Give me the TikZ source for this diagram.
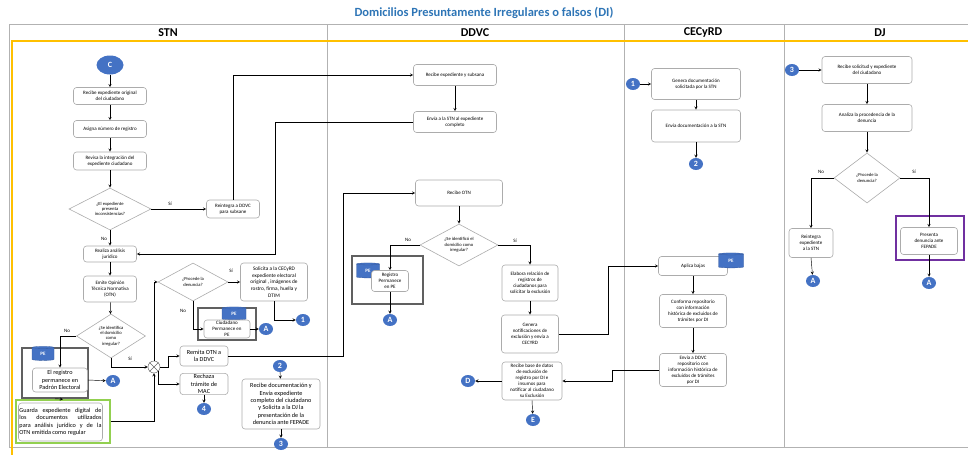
\documentclass[tikz,border=0pt]{standalone}
\usepackage{fontspec}
\setmainfont{Carlito}
\usetikzlibrary{shapes.geometric}

\definecolor{cblue}{RGB}{68,114,196}
\definecolor{tblue}{RGB}{46,117,182}
\definecolor{lyellow}{RGB}{255,192,0}
\definecolor{lgreen}{RGB}{146,208,80}
\definecolor{lpurple}{RGB}{112,48,160}

\tikzset{
  box/.style={draw=gray!65, line width=0.6pt, rounded corners=3pt, fill=white, align=center, inner sep=1pt, font=\fontsize{5}{6}\selectfont},
  bigbox/.style={box, font=\fontsize{6.2}{7.4}\selectfont},
  dec/.style={diamond, draw=gray!65, line width=0.6pt, fill=white, align=center, inner sep=0pt, aspect=2, font=\fontsize{4.6}{5.4}\selectfont},
  conn/.style={ellipse, fill=cblue, text=white, inner sep=0pt, minimum width=14pt, minimum height=12pt, font=\bfseries\fontsize{8}{8}\selectfont},
  grp/.style={draw=gray!75!black, line width=1.6pt},
  cyl/.style={cylinder, shape border rotate=90, aspect=0.4, fill=cblue, draw=cblue!80!black, line width=0.3pt, text=white, inner sep=0pt, font=\bfseries\fontsize{5}{5}\selectfont},
  lbl/.style={inner sep=0pt, font=\fontsize{5}{6}\selectfont},
  lanehead/.style={font=\bfseries\fontsize{12}{14}\selectfont},
  lane/.style={draw=gray!60, line width=0.8pt}
}

\begin{document}
\begin{tikzpicture}[x=1pt, y=-1pt, >=stealth, line width=0.45pt]
\useasboundingbox (0,0) rectangle (968,455);

% lanes
\node[font=\bfseries\fontsize{12.5}{15}\selectfont, text=tblue] (title) at (484,13) {Domicilios Presuntamente Irregulares o falsos (DI)};
\draw[lane] (968,24) -- (9,24) -- (9,447) -- (968,447);
\foreach \lx in {327,624,784} \draw[lane] (\lx,24) -- (\lx,447);
\draw[lyellow, line width=1.8pt] (968,41) -- (12,41) -- (12,455);
\node[lanehead] (hstn) at (168,33) {STN};
\node[lanehead] (hddvc) at (475,33) {DDVC};
\node[lanehead] (hcec) at (703,33) {CECyRD};
\node[lanehead] (hdj) at (880,33) {DJ};

% STN
\node[conn, minimum width=27pt, minimum height=19pt] (c) at (110,65) {C};
\node[box, minimum width=73pt, minimum height=17pt] (n1) at (110,96) {Recibe expediente original\\del ciudadano};
\node[box, minimum width=73pt, minimum height=17pt] (n2) at (110,129) {Asigna número de registro};
\node[box, minimum width=73pt, minimum height=18pt] (n3) at (110,161) {Revisa la integración del\\expediente ciudadano};
\node[dec, minimum width=82pt, minimum height=42pt] (d1) at (110,209) {¿El expediente\\presenta\\inconsistencias?};
\node[box, minimum width=53pt, minimum height=18pt] (reint) at (233,209) {Reintegra a DDVC\\para subsane};
\node[box, minimum width=53pt, minimum height=16pt] (ana) at (110,254) {Realiza análisis\\jurídico};
\node[box, minimum width=53pt, minimum height=26pt] (otn) at (110,289) {Emite Opinión\\Técnica Normativa\\(OTN)};
\node[dec, minimum width=69pt, minimum height=44pt] (d2) at (111,336) {¿Se identifica\\el domicilio\\como\\irregular?};
\node[grp, minimum width=66pt, minimum height=50pt] (pe1grp) at (55,373) {};
\node[cyl, minimum width=22pt, minimum height=14pt] (pe1cyl) at (43,354) {PE};
\node[bigbox, minimum width=55pt, minimum height=24pt] (perm) at (60,380) {El registro\\permanece en\\Padrón Electoral};
\node[conn] (a1) at (113,381) {A};
\node[draw=lgreen, line width=1.6pt, minimum width=94pt, minimum height=43pt] (grn) at (63,421.5) {};
\node[box, text width=82pt, minimum height=38pt, align=justify, font=\fontsize{6.2}{7.4}\selectfont] (guarda) at (60.5,422) {Guarda expediente digital de\linebreak los documentos utilizados\linebreak para análisis jurídico y de la\linebreak OTN emitida como regular};
\node[circle, draw=gray!80!black, fill=white, minimum size=12pt, inner sep=0pt] (gate) at (154,367) {};
\draw[gray!80!black] (gate.north west) -- (gate.south east) (gate.north east) -- (gate.south west);
\node[bigbox, minimum width=48pt, minimum height=20pt] (remita) at (204,356) {Remita OTN a\\la DDVC};
\node[bigbox, minimum width=48pt, minimum height=21pt] (rechaza) at (204,384) {Rechaza\\trámite de\\MAC};
\node[conn] (c4) at (204,409) {4};
\node[dec, minimum width=70pt, minimum height=38pt] (d3) at (193,282) {¿Procede la\\denuncia?};
\node[box, minimum width=67pt, minimum height=38pt, font=\fontsize{5.3}{6.6}\selectfont] (sol) at (274,282) {Solicita a la CECyRD\\expediente electoral\\original , imágenes de\\rostro, firma, huella y\\DTIM};
\node[conn] (c1) at (303,320) {1};
\node[grp, minimum width=58pt, minimum height=32pt] (pe2grp) at (227,324) {};
\node[cyl, minimum width=24pt, minimum height=13pt] (pe2cyl) at (234,314) {PE};
\node[box, minimum width=46pt, minimum height=18pt] (cpe) at (227,329) {Ciudadano\\Permanece en\\PE};
\node[conn] (a2) at (266,329) {A};
\node[conn] (c2) at (280,366) {2};
\node[bigbox, minimum width=78pt, minimum height=50pt] (recdoc) at (281,404) {Recibe documentación y\\Envía expediente\\completo del ciudadano\\y Solicita a la DJ la\\presentación de la\\denuncia  ante FEPADE};
\node[conn] (c3) at (281,444) {3};

\node[lbl] (lb1) at (170,204) {Sí};
\node[lbl] (lb2) at (104,239) {No};
\node[lbl] (lb3) at (67,331) {No};
\node[lbl] (lb4) at (130,359) {Sí};
\node[lbl] (lb5) at (231,271) {Sí};
\node[lbl] (lb6) at (183,311) {No};

\coordinate (k1) at (275,254);
\coordinate (k2) at (343,356);
\coordinate (g1) at (168,367);

\draw[->] (c) -- (n1);
\draw[->] (n1) -- (n2);
\draw[->] (n2) -- (n3);
\draw[->] (n3) -- (d1);
\draw[->] (d1.east) -- (reint.west);
\draw[->] (d1.south) -- (ana.north);
\draw[->] (ana) -- (otn);
\draw[->] (otn) -- (d2);
\draw[->] (d2.west) -| (perm.north);
\draw[->] (perm.east) -- (a1);
\draw[->] (pe1grp.south) -- (grn.north);
\draw[->] (d2.south) |- (gate.west);
\draw[->] (grn.east) -| (gate.south);
\draw[->] (gate.east) -- (g1) |- (remita.west);
\draw[->] (gate.south east) |- (rechaza.west);
\draw[->] (gate.north) |- (d3.west);
\draw[->] (d3.east) -- (sol.west);
\draw[->] (sol.south) |- (c1.west);
\draw[->] (d3.south) |- (cpe.west);
\draw[->] (cpe.east) -- (a2);
\draw[->] (rechaza) -- (c4);
\draw[->] (c2) -- (recdoc);
\draw[->] (recdoc) -- (c3);

% DDVC
\node[box, minimum width=83pt, minimum height=21pt] (rsub) at (455,75) {Recibe expediente y subsana};
\node[box, minimum width=83pt, minimum height=21pt] (envstn) at (455,122) {Envía a la STN al expediente\\completo};
\node[box, minimum width=87pt, minimum height=26pt] (rotn) at (459,193) {Recibe OTN};
\node[dec, minimum width=78pt, minimum height=42pt] (d4) at (459,245) {¿Se identificó el\\domicilio como\\irregular?};
\node[grp, minimum width=71pt, minimum height=48pt] (pe3grp) at (387.5,280) {};
\node[cyl, minimum width=23pt, minimum height=15pt] (pe3cyl) at (368,271) {PE};
\node[box, minimum width=37pt, minimum height=21pt] (rpe) at (390,281) {Registro\\Permanece\\en PE};
\node[conn] (a3) at (390,320) {A};
\node[box, minimum width=56pt, minimum height=36pt] (elab) at (530,283) {Elabora relación de\\registros de\\ciudadanos para\\solicitar la exclusión};
\node[box, minimum width=57pt, minimum height=38pt] (gen) at (530,334) {Genera\\notificaciones de\\exclusión y envía  a\\CECYRD};
\node[box, minimum width=60pt, minimum height=38pt] (recb) at (532,381) {Recibe base de datos\\de exclusión de\\registro por DI e\\insumos para\\notificar al ciudadano\\su Exclusión};
\node[conn] (cd) at (468,381) {D};
\node[conn] (ce) at (533,420) {E};

\node[lbl] (lb7) at (408,240) {No};
\node[lbl] (lb8) at (515,241) {Sí};

\coordinate (k3) at (608,334);
\coordinate (k4) at (612,381);

\draw[->] (reint.north) |- (rsub.west);
\draw[->] (rsub) -- (envstn);
\draw[->] (envstn.west) -| (k1) -- (ana.east);
\draw[->] (remita.east) -- (k2) |- (rotn.west);
\draw[->] (rotn) -- (d4);
\draw[->] (d4.west) -| (rpe.north);
\draw[->] (rpe) -- (a3);
\draw[->] (d4.east) -| (elab.north);
\draw[->] (elab) -- (gen);
\draw[->] (recb.west) -- (cd);
\draw[->] (recb.south) -- (ce);

% CECyRD
\node[conn] (c1b) at (633,84) {1};
\node[box, minimum width=89pt, minimum height=31pt] (gendoc) at (696,84) {Genera documentación\\solicitada por la STN};
\node[box, minimum width=89pt, minimum height=32pt] (envdoc) at (696,126) {Envía documentación a la STN};
\node[conn] (c2b) at (696,164) {2};
\node[box, minimum width=69pt, minimum height=19pt] (aplica) at (693,266) {Aplica bajas};
\node[cyl, minimum width=25pt, minimum height=15pt] (pe4cyl) at (731,261) {PE};
\node[box, minimum width=67pt, minimum height=33pt] (conf) at (693,311) {Conforma repositorio\\con información\\histórica de excluidos de\\trámites  por DI};
\node[box, minimum width=67pt, minimum height=33pt] (envdd) at (693,370) {Envía a DDVC\\repositorio con\\información histórica de\\excluidos de trámites\\por DI};

\draw[->] (c1b) -- (gendoc);
\draw[->] (gendoc) -- (envdoc);
\draw[->] (envdoc) -- (c2b);
\draw[->] (gen.east) -- (k3) |- (aplica.west);
\draw[->] (aplica) -- (conf);
\draw[->] (conf) -- (envdd);
\draw[->] (envdd.west) -| (k4) -- (recb.east);

% DJ
\node[conn] (c3b) at (792,70) {3};
\node[box, minimum width=90pt, minimum height=27pt] (recsol) at (867,70) {Recibe solicitud y expediente\\del ciudadano};
\node[box, minimum width=90pt, minimum height=27pt] (anl) at (867,118) {Analiza la procedencia de la\\denuncia};
\node[dec, minimum width=66pt, minimum height=50pt] (d5) at (867,178) {¿Procede la\\denuncia?};
\node[box, minimum width=44pt, minimum height=29pt] (reintstn) at (811,243) {Reintegra\\expediente\\a la STN};
\node[conn] (a4) at (813,281) {A};
\node[draw=lpurple, line width=1.6pt, minimum width=68pt, minimum height=44pt] (purp) at (930,238) {};
\node[box, minimum width=57pt, minimum height=27pt] (pres) at (929,241) {Presenta\\denuncia ante\\FEPADE};
\node[conn] (a5) at (929,283) {A};

\node[lbl] (lb9) at (821,172) {No};
\node[lbl] (lb10) at (914,172) {Sí};

\draw[->] (c3b) -- (recsol);
\draw[->] (recsol) -- (anl);
\draw[->] (anl) -- (d5);
\draw[->] (d5.west) -| (reintstn.north);
\draw[->] (d5.east) -| (pres.north);
\draw[->] (reintstn.south) -- (a4);
\draw[->] (pres.south) -- (a5);
\end{tikzpicture}
\end{document}
